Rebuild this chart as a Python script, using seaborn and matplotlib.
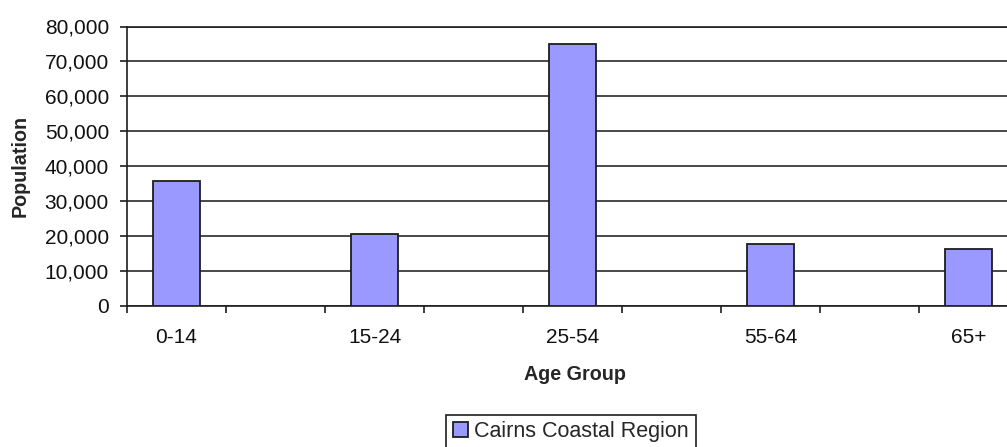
import matplotlib
matplotlib.use("Agg")
import matplotlib.pyplot as plt
import seaborn as sns
import pandas as pd
from matplotlib.ticker import FixedLocator, FuncFormatter

# Population by age group
age_groups = ["0-14", "15-24", "25-54", "55-64", "65+"]
population = [35800, 20400, 75000, 17500, 16200]
series_name = "Cairns Coastal Region"
y_ticks = [0, 10000, 20000, 30000, 40000, 50000, 60000, 70000, 80000]

df = pd.DataFrame({"Age Group": age_groups,
                   "Population": population,
                   "Region": [series_name] * len(age_groups)})

sns.set_theme(style="white")
plt.rcParams["font.family"] = ["Liberation Sans", "DejaVu Sans"]

W, H = 1007, 447
fig = plt.figure(figsize=(W / 100, H / 100), dpi=100)
# plot area runs past the right edge of the canvas
ax = fig.add_axes([127 / W, 1 - 305.5 / H, 990 / W, (305.5 - 26.5) / H])

sns.barplot(data=df, x="Age Group", y="Population", hue="Region",
            palette=["#9999FF"], saturation=1, width=0.237,
            edgecolor="#1e1e1e", linewidth=1.3, ax=ax, zorder=3)

ax.set_xlim(-0.25, 4.75)
ax.set_ylim(0, 80000)
ax.set_yticks(y_ticks)
ax.yaxis.set_major_formatter(FuncFormatter(lambda v, p: f"{v:,.0f}"))

# horizontal gridlines
ax.set_axisbelow(True)
ax.yaxis.grid(True, color="#2a2a2a", linewidth=1.2)
ax.xaxis.grid(False)

for side in ["left", "bottom", "top"]:
    ax.spines[side].set_visible(True)
    ax.spines[side].set_color("#1e1e1e")
    ax.spines[side].set_linewidth(1.2)
ax.spines["right"].set_visible(False)

# category labels without marks; marks every half category
ax.set_xticks(range(len(age_groups)))
ax.set_xticklabels(age_groups)
ax.xaxis.set_minor_locator(FixedLocator([-0.25 + 0.5 * k for k in range(11)]))
ax.tick_params(axis="x", which="major", length=0, pad=16, labelsize=15, colors="#111111")
ax.tick_params(axis="x", which="minor", bottom=True, length=5, width=1.2,
               direction="out", color="#1e1e1e")
ax.tick_params(axis="y", which="major", left=True, length=5, width=1.2,
               direction="out", color="#1e1e1e", pad=8, labelsize=15,
               labelcolor="#111111")

ax.set_xlabel("Age Group", fontsize=14.2, fontweight="bold", va="center")
ax.xaxis.set_label_coords(0.4525, -0.249)
ax.set_ylabel("Population", fontsize=14.2, fontweight="bold", va="center")
ax.yaxis.set_label_coords(-0.108, 0.5)

sns.move_legend(ax, "upper center", bbox_to_anchor=(571 / W, 1 - 415 / H),
                bbox_transform=fig.transFigure, title=None, frameon=True,
                fontsize=15.5, handlelength=0.7, handleheight=0.7,
                handletextpad=0.3, borderpad=0.3, borderaxespad=0,
                fancybox=False, edgecolor="#1e1e1e", framealpha=1)
leg = ax.get_legend()
leg.get_frame().set_linewidth(1.2)

fig.savefig("out.png", dpi=100, facecolor="white")
